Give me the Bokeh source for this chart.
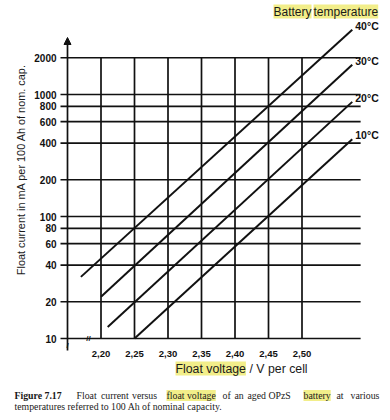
from math import pi
from bokeh.plotting import figure
from bokeh.models import Range1d, Label, Arrow, NormalHead
from bokeh.core.properties import value
from bokeh.embed import file_html
from bokeh.resources import INLINE

# ---- data ----
x_ticks = [2.20, 2.25, 2.30, 2.35, 2.40, 2.45, 2.50]
x_tick_labels = ["2,20", "2,25", "2,30", "2,35", "2,40", "2,45", "2,50"]
y_ticks = [10, 20, 40, 60, 80, 100, 200, 400, 600, 800, 1000, 2000]
y_tick_labels = ["10", "20", "40", "60", "80", "100", "200", "400", "600", "800", "1000", "2000"]

temps = ["40°C", "30°C", "20°C", "10°C"]
v_40 = [2.17, 2.575]
i_40 = [32, 3400]
v_30 = [2.20, 2.575]
i_30 = [22, 1750]
v_20 = [2.21, 2.575]
i_20 = [12.4, 870]
v_10 = [2.25, 2.575]
i_10 = [10, 430]

x_axis_start = 2.15
grid_x_end = 2.5875

# ---- layout helpers (pixel of picture -> data coords) ----
PX_PER_V = 670.0
PX_PER_DEC = 122.0


def vx(px):
    return x_axis_start + (px - 67) / PX_PER_V


def vy(py):
    return 10 ** (1 + (338 - py) / PX_PER_DEC)


W, H = 390, 420
p = figure(width=W, height=H, output_backend="svg", toolbar_location=None,
           y_axis_type="log", x_axis_location=None, y_axis_location=None,
           x_range=Range1d(vx(0), vx(W)), y_range=Range1d(vy(H), vy(0)),
           min_border=0)
p.outline_line_color = None
p.xgrid.visible = False
p.ygrid.visible = False
p.background_fill_color = "white"
p.border_fill_color = "white"

INK = "#111111"
TICK_LEN = 7 / PX_PER_V

# grid lines (horizontal ones start a little left of the axis: tick marks)
n = len(x_ticks)
p.segment(x0=x_ticks, y0=[y_ticks[0]] * n, x1=x_ticks, y1=[y_ticks[-1]] * n,
          line_color=INK, line_width=1.7)
m = len(y_ticks)
p.segment(x0=[x_axis_start - TICK_LEN] * m, y0=y_ticks, x1=[grid_x_end] * m, y1=y_ticks,
          line_color=INK, line_width=1.7)

# tick labels
p.text(x=[x_axis_start] * m, y=y_ticks, text=y_tick_labels, x_offset=-11,
       text_align="right", text_baseline="middle",
       text_font=value("Liberation Sans"), text_font_style="bold",
       text_font_size="10px", text_color=INK)
p.text(x=x_ticks, y=[y_ticks[0]] * n, text=x_tick_labels, y_offset=15,
       text_align="center", text_baseline="middle",
       text_font=value("Liberation Sans"), text_font_style="bold",
       text_font_size="9.5px", text_color=INK)

# y axis line with arrow
p.add_layout(Arrow(x_start=x_axis_start, y_start=vy(350), x_end=x_axis_start, y_end=vy(37),
                   line_color=INK, line_width=1.7,
                   end=NormalHead(size=7, fill_color=INK, line_color=INK)))

# axis break marks
p.text(x=[vx(88)], y=[y_ticks[0]], text=["//"], text_align="center", text_baseline="middle",
       text_font=value("Liberation Sans"), text_font_style="bold", text_font_size="8px",
       text_color=INK)
p.text(x=[x_axis_start], y=[y_ticks[0]], text=["/"], y_offset=7, text_align="center",
       text_baseline="middle", text_font=value("Liberation Sans"), text_font_style="bold",
       text_font_size="8px", text_color=INK)

# temperature curves
series = [(v_40, i_40), (v_30, i_30), (v_20, i_20), (v_10, i_10)]
for (vs, cs), t in zip(series, temps):
    p.line(vs, cs, line_color=INK, line_width=2)
    p.text(x=[vs[-1]], y=[cs[-1]], text=[t], x_offset=3, y_offset=-4,
           text_align="left", text_baseline="middle",
           text_font=value("Liberation Sans"), text_font_style="bold",
           text_font_size="10.5px", text_color=INK)

HL = "#f2ee8a"


def lab(px, py, text, size="12px", font="Liberation Sans", style="normal",
        align="left", bg=None, angle=0):
    kw = {}
    if bg is not None:
        kw["background_fill_color"] = bg
    p.add_layout(Label(x=vx(px), y=vy(py), text=text, text_font=font,
                       text_font_style=style, text_font_size=size,
                       text_align=align, text_baseline="middle", text_color="#1a1a1a",
                       angle=angle, **kw))


# legend title
lab(273, 11, "Battery", bg=HL)
lab(313, 11, "temperature", bg=HL)

# axis titles
lab(20, 169, "Float current in mA per 100 Ah of nom. cap.", size="10.9px",
    align="center", angle=pi / 2)
lab(175, 368, "Float voltage", size="12.3px", bg=HL)
lab(249, 368, "/ V per cell", size="12.3px")

# caption
CF = "Liberation Serif"
cs_ = "9.8px"
Y1, Y2 = 395, 406
lab(14, Y1, "Figure 7.17", size=cs_, font=CF, style="bold")
for w, x in [("Float", 76), ("current", 100.5), ("versus", 131.5)]:
    lab(x, Y1, w, size=cs_, font=CF)
lab(166, Y1, "float voltage", size=cs_, font=CF, bg=HL)
for w, x in [("of", 222), ("an", 234), ("aged", 247), ("OPzS", 268)]:
    lab(x, Y1, w, size=cs_, font=CF)
lab(303, Y1, "battery", size=cs_, font=CF, bg=HL)
for w, x in [("at", 336), ("various", 350)]:
    lab(x, Y1, w, size=cs_, font=CF)
lab(14, Y2, "temperatures referred to 100 Ah of nominal capacity.", size=cs_, font=CF)

open("out.html", "w").write(file_html(p, INLINE))
